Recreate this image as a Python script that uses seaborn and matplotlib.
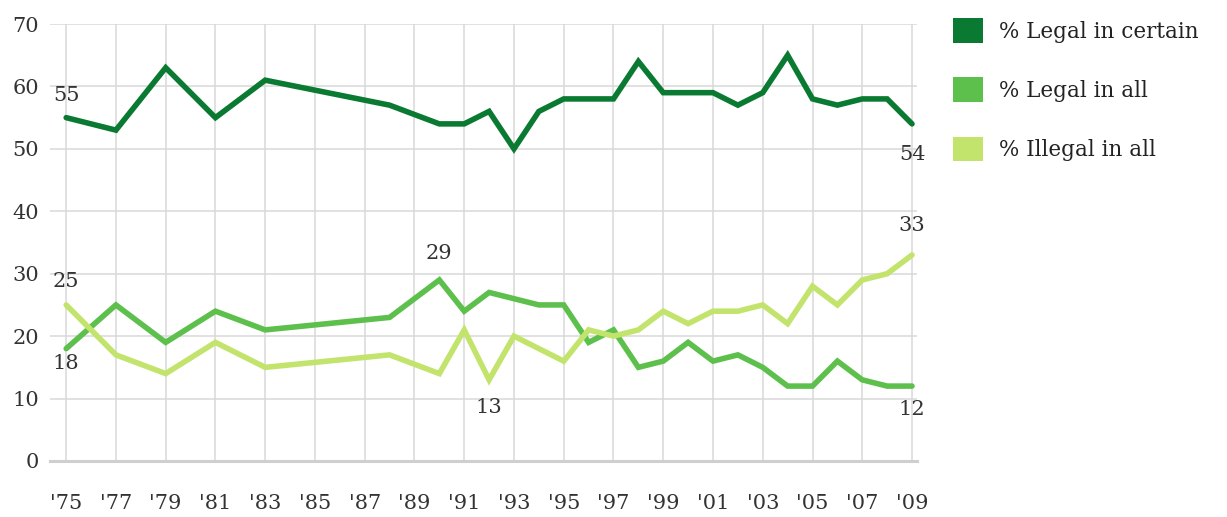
import matplotlib
matplotlib.use('Agg')
import matplotlib.pyplot as plt
from matplotlib.patches import Patch
import seaborn as sns
import pandas as pd

# survey years and series values
years = [1975, 1977, 1979, 1981, 1983, 1988, 1990, 1991, 1992, 1993, 1994, 1995, 1996,
         1997, 1998, 1999, 2000, 2001, 2002, 2003, 2004, 2005, 2006, 2007, 2008, 2009]
legal_certain = [55, 53, 63, 55, 61, 57, 54, 54, 56, 50, 56, 58, 58,
                 58, 64, 59, 59, 59, 57, 59, 65, 58, 57, 58, 58, 54]
legal_all = [18, 25, 19, 24, 21, 23, 29, 24, 27, 26, 25, 25, 19,
             21, 15, 16, 19, 16, 17, 15, 12, 12, 16, 13, 12, 12]
illegal_all = [25, 17, 14, 19, 15, 17, 14, 21, 13, 20, 18, 16, 21,
               20, 21, 24, 22, 24, 24, 25, 22, 28, 25, 29, 30, 33]

series_names = ['% Legal in certain', '% Legal in all', '% Illegal in all']
colors = ['#0a7a32', '#5ec04c', '#c3e46c']
tick_years = list(range(1975, 2010, 2))
tick_labels = ["'" + str(y)[2:] for y in tick_years]

# (series index, year, value, offset in points)
callouts = [(0, 1975, 55, 16), (0, 2009, 54, -22),
            (1, 1975, 18, -11), (1, 1990, 29, 19), (1, 2009, 12, -17),
            (2, 1975, 25, 17), (2, 1992, 13, -20), (2, 2009, 33, 21)]

df = pd.DataFrame({
    'year': years * 3,
    'value': legal_certain + legal_all + illegal_all,
    'series': [series_names[0]] * len(years) + [series_names[1]] * len(years)
              + [series_names[2]] * len(years),
})

sns.set_style('white')
plt.rcParams['font.family'] = ['DejaVu Serif']

fig = plt.figure(figsize=(12.27, 5.17), dpi=100)
ax = fig.add_axes([50 / 1227, 1 - 461 / 517, 867 / 1227, 437 / 517])

sns.lineplot(data=df, x='year', y='value', hue='series', palette=colors,
             hue_order=series_names, linewidth=4, ax=ax, legend=False)
for line in ax.lines:
    line.set_solid_joinstyle('miter')

ax.set_xlim(1974.35, 2009.2)
ax.set_ylim(0, 70)
ax.set_xticks(tick_years)
ax.set_xticklabels(tick_labels)
ax.set_yticks(range(0, 71, 10))
ax.grid(True, color='#d8d8d8', linewidth=1.1)
ax.set_axisbelow(True)
ax.tick_params(length=0, labelsize=15, colors='#333333')
ax.tick_params(axis='x', pad=24)
ax.tick_params(axis='y', pad=8)
ax.set_xlabel('')
ax.set_ylabel('')
for side in ['top', 'right', 'left']:
    ax.spines[side].set_visible(False)
ax.spines['bottom'].set_color('#cfcfcf')
ax.spines['bottom'].set_linewidth(2.2)

for idx, yr, val, off in callouts:
    ax.annotate(str(val), (yr, val), xytext=(0, off), textcoords='offset points',
                ha='center', va='center', fontsize=15, color='#333333')

handles = [Patch(facecolor=c, edgecolor='none') for c in colors]
fig.legend(handles, series_names, loc='upper left', bbox_to_anchor=(953 / 1227, 1 - 18 / 517),
           frameon=False, fontsize=15.5, handlelength=1.4, handleheight=1.4,
           handletextpad=0.72, labelspacing=1.6, borderaxespad=0, borderpad=0)
for t in fig.legends[0].get_texts():
    t.set_color('#222222')

fig.savefig('out.png', dpi=100)
